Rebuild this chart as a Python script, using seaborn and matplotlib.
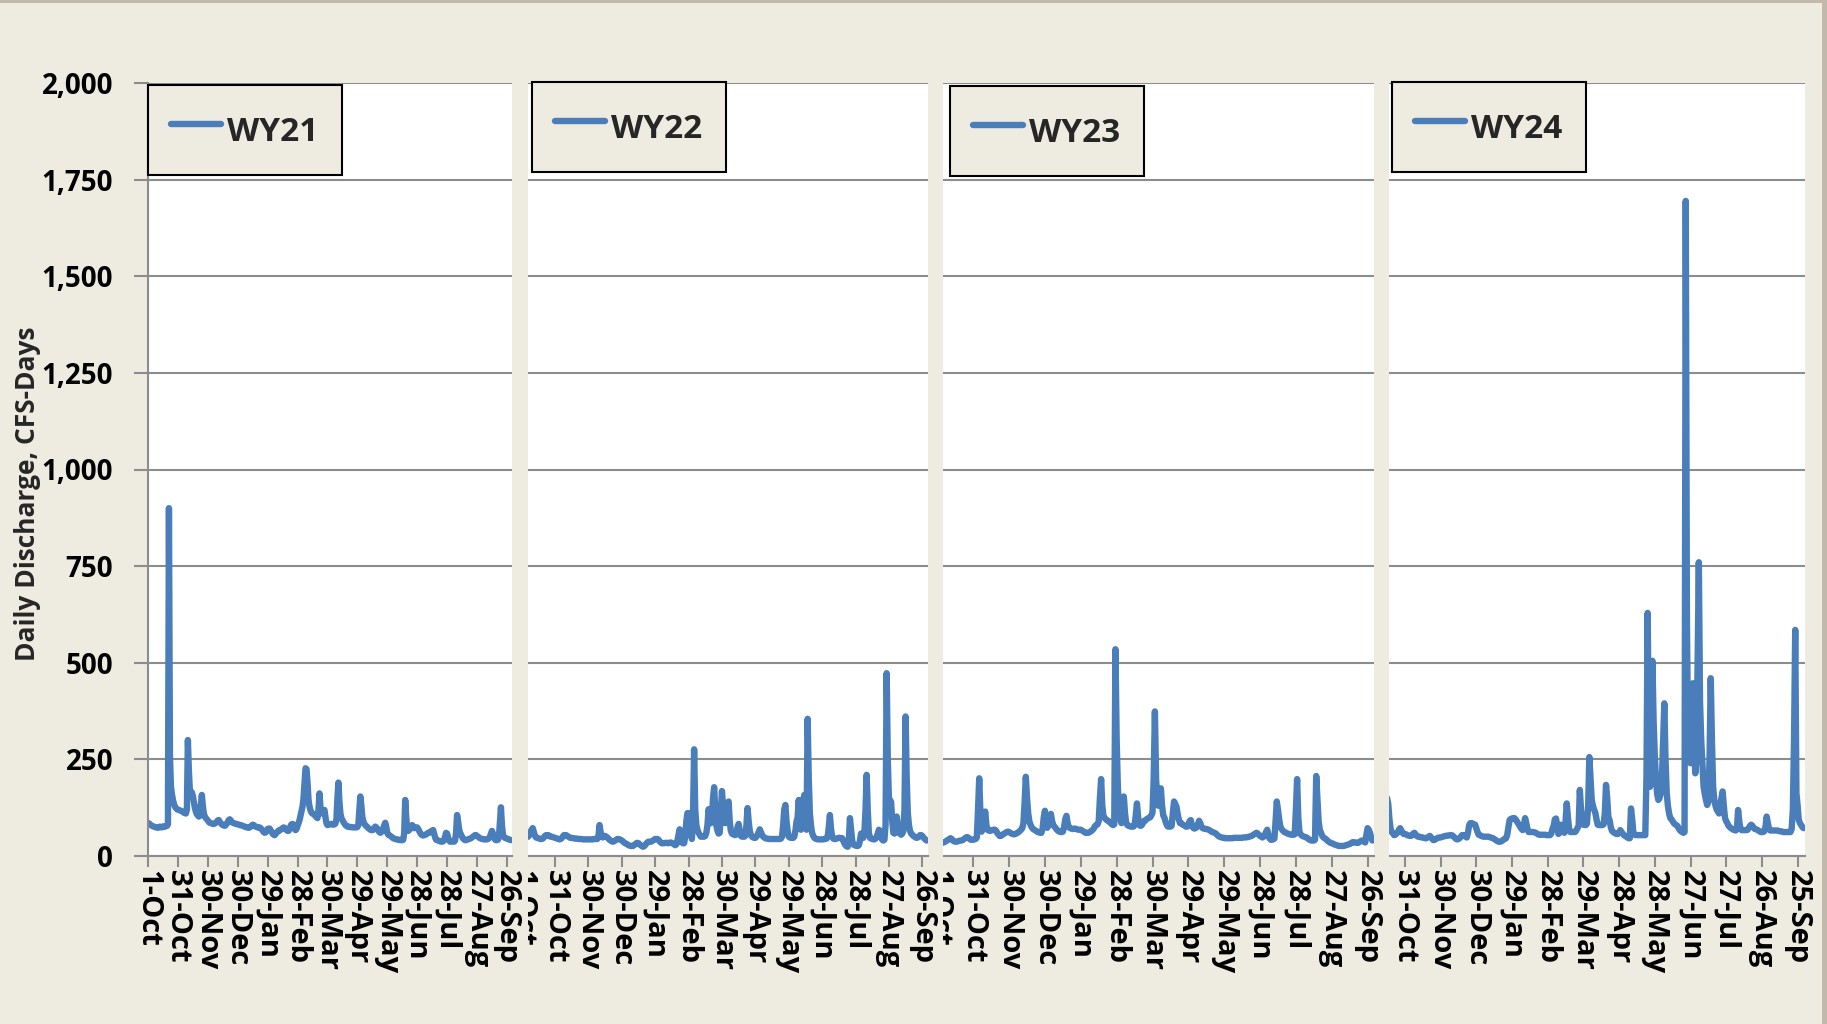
import pandas as pd
import seaborn as sns
import matplotlib.pyplot as plt
from matplotlib.patches import Rectangle

# daily discharge (CFS-days), one value per day starting 1-Oct
wy21 = [86, 84, 82, 80, 78, 77, 76, 75, 74, 74,
        73, 74, 76, 75, 74, 76, 77, 76, 77, 78,
        82, 900, 260, 180, 160, 145, 135, 128, 124, 121,
        120, 119, 118, 117, 116, 114, 112, 111, 110, 120,
        300, 220, 170, 163, 165, 155, 140, 125, 115, 108,
        105, 102, 104, 130, 158, 130, 110, 102, 98, 95,
        92, 88, 86, 85, 84, 83, 83, 84, 86, 88,
        92, 93, 88, 85, 82, 80, 79, 78, 80, 84,
        88, 93, 95, 92, 88, 86, 85, 84, 83, 83,
        82, 81, 80, 80, 79, 78, 77, 76, 75, 74,
        74, 73, 74, 76, 79, 81, 80, 78, 76, 75,
        74, 73, 74, 72, 69, 66, 62, 60, 61, 66,
        70, 71, 71, 67, 62, 58, 55, 54, 57, 60,
        63, 66, 66, 68, 70, 72, 74, 73, 70, 67,
        65, 65, 70, 78, 82, 83, 78, 70, 67, 70,
        78, 85, 93, 105, 118, 128, 150, 190, 227, 225,
        190, 145, 128, 118, 112, 110, 108, 106, 105, 100,
        98, 120, 162, 125, 110, 112, 115, 119, 100, 85,
        80, 81, 82, 82, 83, 82, 81, 82, 84, 95,
        150, 190, 140, 110, 98, 93, 88, 84, 80, 78,
        76, 76, 75, 75, 75, 74, 74, 74, 74, 74,
        75, 80, 120, 154, 130, 100, 90, 83, 80, 77,
        75, 72, 70, 68, 67, 67, 68, 72, 76, 74,
        70, 66, 62, 60, 62, 66, 72, 80, 86, 75,
        60, 55, 54, 52, 50, 48, 46, 45, 44, 43,
        43, 42, 42, 41, 41, 41, 42, 60, 145, 100,
        70, 65, 67, 72, 78, 80, 76, 72, 74, 74,
        74, 70, 65, 60, 56, 54, 53, 54, 55, 56,
        58, 60, 60, 62, 64, 66, 67, 58, 48, 42,
        41, 40, 39, 38, 37, 37, 38, 42, 50, 60,
        58, 48, 40, 37, 37, 38, 38, 37, 40, 60,
        106, 90, 70, 60, 55, 50, 45, 43, 41, 41,
        42, 43, 44, 45, 46, 48, 50, 52, 54, 54,
        52, 50, 48, 46, 45, 44, 44, 43, 43, 43,
        43, 44, 46, 50, 58, 65, 58, 48, 43, 41,
        41, 42, 50, 90, 126, 80, 55, 49, 47, 46,
        45, 44, 43, 42, 41]

wy22 = [45, 46, 48, 50, 52, 50, 50, 55, 62, 68,
        72, 62, 52, 48, 47, 46, 45, 44, 44, 45,
        48, 52, 54, 53, 54, 52, 50, 50, 49, 48,
        47, 46, 45, 44, 43, 44, 46, 50, 54, 54,
        54, 52, 50, 48, 47, 47, 46, 46, 45, 45,
        45, 44, 44, 44, 44, 43, 43, 43, 43, 43,
        43, 43, 43, 43, 43, 44, 44, 44, 44, 50,
        80, 62, 50, 48, 50, 52, 50, 48, 45, 42,
        40, 38, 37, 38, 40, 42, 44, 44, 43, 42,
        40, 38, 35, 33, 32, 30, 28, 27, 26, 26,
        26, 28, 30, 33, 34, 33, 30, 28, 26, 24,
        25, 28, 32, 35, 37, 37, 37, 38, 40, 42,
        44, 44, 44, 42, 38, 35, 33, 33, 33, 34,
        34, 34, 33, 34, 35, 34, 32, 30, 28, 30,
        40, 55, 69, 45, 35, 33, 33, 50, 90, 111,
        105, 111, 80, 44, 100, 276, 120, 80, 68, 60,
        55, 50, 50, 50, 50, 52, 60, 80, 121, 105,
        85, 100, 150, 178, 120, 79, 65, 58, 60, 110,
        168, 130, 100, 85, 110, 135, 141, 90, 65, 58,
        56, 55, 54, 60, 75, 83, 65, 52, 50, 50,
        50, 52, 80, 124, 90, 65, 54, 50, 48, 47,
        47, 50, 55, 62, 69, 62, 55, 50, 48, 46,
        45, 45, 44, 44, 44, 44, 44, 44, 44, 44,
        44, 44, 44, 45, 50, 80, 120, 132, 90, 65,
        50, 48, 47, 47, 47, 50, 65, 89, 100, 145,
        95, 68, 85, 140, 158, 90, 68, 355, 200, 110,
        79, 60, 52, 47, 45, 44, 43, 43, 43, 43,
        43, 43, 44, 44, 45, 50, 75, 106, 70, 50,
        45, 44, 44, 45, 46, 47, 47, 46, 46, 40,
        33, 28, 25, 24, 40, 98, 70, 40, 30, 28,
        27, 26, 26, 28, 40, 58, 55, 47, 60, 120,
        210, 120, 60, 47, 45, 44, 43, 43, 45, 50,
        58, 68, 65, 48, 42, 40, 42, 80, 473, 250,
        150, 145, 140, 90, 60, 58, 75, 102, 80, 60,
        58, 55, 58, 65, 120, 361, 200, 111, 80, 65,
        58, 55, 52, 50, 48, 47, 48, 50, 54, 54,
        52, 48, 45, 42, 40]

wy23 = [40, 38, 36, 35, 34, 35, 36, 38, 40, 42,
        44, 46, 44, 40, 38, 37, 37, 38, 39, 40,
        40, 41, 43, 46, 48, 49, 47, 44, 42, 42,
        42, 43, 44, 48, 120, 201, 110, 63, 70, 90,
        115, 80, 68, 66, 65, 66, 67, 68, 68, 66,
        60, 56, 52, 52, 54, 56, 58, 60, 62, 63,
        62, 60, 58, 57, 56, 57, 58, 60, 62, 65,
        68, 72, 85, 140, 205, 150, 110, 89, 80, 74,
        70, 68, 66, 64, 62, 61, 60, 60, 70, 100,
        117, 85, 73, 80, 100, 109, 90, 80, 76, 72,
        68, 65, 63, 62, 62, 63, 75, 95, 104, 85,
        75, 72, 71, 70, 70, 71, 70, 69, 68, 68,
        68, 66, 64, 62, 60, 60, 60, 61, 63, 65,
        68, 72, 78, 80, 82, 90, 150, 199, 130, 102,
        98, 95, 92, 91, 88, 85, 82, 80, 82, 535,
        300, 180, 120, 95, 85, 100, 154, 110, 85, 80,
        78, 77, 76, 76, 76, 80, 105, 136, 100, 80,
        78, 80, 85, 91, 92, 95, 97, 99, 100, 105,
        112, 200, 374, 200, 145, 130, 155, 175, 130, 105,
        99, 88, 80, 76, 76, 76, 78, 110, 141, 135,
        128, 110, 95, 85, 85, 82, 80, 78, 76, 76,
        80, 90, 93, 80, 73, 71, 72, 75, 82, 91,
        85, 75, 72, 71, 70, 70, 69, 68, 66, 64,
        62, 61, 60, 58, 55, 52, 50, 49, 48, 47,
        47, 46, 46, 46, 46, 46, 46, 46, 47, 47,
        47, 47, 47, 47, 47, 47, 48, 48, 48, 49,
        49, 50, 51, 52, 54, 56, 58, 60, 58, 55,
        52, 50, 48, 50, 55, 62, 68, 55, 45, 42,
        42, 43, 45, 90, 141, 120, 95, 76, 70, 66,
        63, 61, 60, 58, 57, 56, 55, 55, 55, 56,
        120, 199, 100, 60, 56, 53, 51, 50, 49, 48,
        45, 43, 41, 40, 40, 40, 42, 207, 150, 90,
        68, 60, 52, 48, 46, 44, 41, 38, 36, 34,
        33, 32, 30, 29, 28, 27, 26, 26, 26, 26,
        26, 27, 28, 29, 30, 31, 33, 35, 36, 35,
        35, 34, 34, 36, 38, 40, 39, 37, 35, 55,
        72, 68, 60, 48, 40]

wy24 = [70, 68, 66, 65, 64, 62, 60, 60, 62, 65,
        70, 80, 95, 120, 145, 150, 135, 95, 70, 62,
        58, 54, 55, 58, 62, 68, 72, 66, 60, 57,
        57, 56, 54, 53, 52, 52, 54, 58, 60, 56,
        52, 50, 50, 49, 48, 48, 47, 46, 46, 48,
        50, 52, 48, 44, 41, 42, 44, 46, 47, 48,
        48, 49, 50, 51, 52, 52, 53, 53, 54, 54,
        53, 50, 47, 44, 43, 44, 46, 50, 54, 54,
        52, 50, 48, 60, 80, 85, 85, 84, 82, 81,
        72, 62, 55, 54, 52, 51, 50, 50, 50, 50,
        50, 49, 48, 47, 46, 44, 42, 40, 38, 37,
        37, 38, 40, 43, 44, 46, 55, 75, 93, 96,
        97, 98, 98, 95, 90, 85, 80, 75, 70, 67,
        80, 98, 85, 70, 62, 62, 62, 62, 62, 61,
        60, 58, 56, 55, 55, 55, 55, 55, 55, 54,
        54, 54, 54, 58, 70, 78, 95, 97, 75, 57,
        60, 81, 70, 62, 60, 90, 136, 100, 70, 62,
        62, 62, 62, 62, 66, 72, 78, 171, 120, 90,
        81, 80, 80, 84, 130, 256, 200, 145, 130, 120,
        112, 95, 81, 80, 80, 80, 80, 82, 110, 184,
        150, 100, 93, 75, 65, 62, 60, 58, 57, 57,
        60, 67, 62, 58, 54, 52, 50, 48, 46, 46,
        123, 95, 60, 55, 54, 54, 54, 54, 54, 54,
        54, 54, 54, 205, 629, 300, 179, 220, 505, 350,
        257, 200, 160, 145, 150, 163, 200, 300, 395, 250,
        163, 130, 110, 98, 95, 90, 85, 82, 80, 78,
        72, 67, 64, 62, 60, 62, 1695, 600, 283, 250,
        240, 300, 447, 300, 214, 250, 500, 760, 400, 300,
        240, 179, 160, 145, 132, 140, 250, 460, 300, 180,
        145, 130, 120, 115, 110, 130, 150, 167, 130, 98,
        90, 85, 78, 75, 72, 70, 68, 67, 66, 70,
        119, 90, 70, 67, 67, 67, 67, 67, 68, 72,
        78, 81, 78, 74, 70, 69, 68, 66, 64, 62,
        62, 62, 64, 75, 102, 85, 70, 66, 66, 66,
        66, 66, 66, 66, 65, 64, 64, 63, 62, 62,
        62, 62, 62, 62, 62, 70, 119, 300, 585, 163,
        130, 93, 85, 80, 75, 72]

tick_days = [0, 30, 60, 90, 120, 150, 180, 210, 240, 270, 300, 330, 360]
labels_365 = ["1-Oct", "31-Oct", "30-Nov", "30-Dec", "29-Jan", "28-Feb", "30-Mar",
              "29-Apr", "29-May", "28-Jun", "28-Jul", "27-Aug", "26-Sep"]
labels_366 = ["1-Oct", "31-Oct", "30-Nov", "30-Dec", "29-Jan", "28-Feb", "29-Mar",
              "28-Apr", "28-May", "27-Jun", "27-Jul", "26-Aug", "25-Sep"]
y_ticks = [0, 250, 500, 750, 1000, 1250, 1500, 1750, 2000]

BG = "#EEEBE0"
EDGE = "#C2B9AC"
BLUE = "#4A7EBB"
GRID = "#8C8C8C"
W, H = 1827, 1024

sns.set_theme(style="white")
plt.rcParams["font.family"] = ["Open Sans", "DejaVu Sans"]
plt.rcParams["font.weight"] = "bold"

fig = plt.figure(figsize=(W / 100, H / 100), dpi=100, facecolor=BG)

# name, values, tick labels, px of day 0, px per day, legend top-left px
panels = [
    ("WY21", wy21, labels_365, 148.0, 0.997, (148, 85)),
    ("WY22", wy22, labels_365, 521.6, 1.113, (532, 82)),
    ("WY23", wy23, labels_365, 937.4, 1.195, (950, 86)),
    ("WY24", wy24, labels_366, 1369.2, 1.190, (1392, 82)),
]
# beige strips from the chart on top hiding the next chart's left edge
covers = [(505, 528), (915, 943), (1360, 1389)]

top_px, bot_px = 83, 856
for i, (name, vals, labels, x0, ppd, (lx, ly)) in enumerate(panels):
    n = len(vals)
    ax = fig.add_axes([x0 / W, 1 - bot_px / H, n * ppd / W, (bot_px - top_px) / H])
    ax.set_zorder(7 - 2 * i)
    ax.set_facecolor("white")
    df = pd.DataFrame({"day": range(n), "cfs": vals})
    sns.lineplot(data=df, x="day", y="cfs", ax=ax, color=BLUE, lw=4.6,
                 label=name, solid_joinstyle="round", solid_capstyle="round")
    ax.set_xlim(0, n)
    ax.set_ylim(0, 2000)
    ax.set_xticks(tick_days)
    ax.set_xticklabels(labels, rotation=270, fontsize=21, fontweight="bold")
    ax.set_yticks(y_ticks)
    ax.set_xlabel("")
    ax.set_ylabel("")
    ax.yaxis.grid(True, color=GRID, lw=1.5)
    ax.set_axisbelow(True)
    for s in ["top", "right"]:
        ax.spines[s].set_visible(False)
    ax.spines["bottom"].set_color(GRID)
    ax.spines["bottom"].set_linewidth(1.5)
    ax.spines["left"].set_color(GRID)
    ax.spines["left"].set_linewidth(1.5)
    ax.tick_params(axis="x", bottom=True, length=8, width=1.5, color=GRID,
                   pad=2, labelcolor="black")
    if i == 0:
        ax.set_yticklabels([f"{v:,}" for v in y_ticks], fontsize=20, fontweight="bold")
        ax.tick_params(axis="y", left=True, length=10, width=1.5, color=GRID,
                       pad=15, labelcolor="black")
    else:
        ax.set_yticklabels([])
        ax.tick_params(axis="y", left=False)
    leg = ax.legend(loc="upper left", bbox_to_anchor=(lx / W, 1 - ly / H),
                    bbox_transform=fig.transFigure, borderaxespad=0,
                    frameon=True, fancybox=False, framealpha=1,
                    facecolor=BG, edgecolor="black",
                    prop={"weight": "bold", "size": 24},
                    handlelength=1.5, handleheight=1.6, handletextpad=0.18,
                    borderpad=0.7)
    leg.get_frame().set_linewidth(1.5)

for i, (c0, c1) in enumerate(covers):
    fig.add_artist(Rectangle((c0 / W, 0), (c1 - c0) / W, 1, transform=fig.transFigure,
                             facecolor=BG, edgecolor="none", zorder=6 - 2 * i))

fig.add_artist(Rectangle((0, 1 - 3 / H), 1, 3 / H, transform=fig.transFigure,
                         facecolor=EDGE, edgecolor="none", zorder=20))
fig.add_artist(Rectangle((1822 / W, 0), 5 / W, 1, transform=fig.transFigure,
                         facecolor=EDGE, edgecolor="none", zorder=20))

fig.text(28 / W, 1 - 494 / H, "Daily Discharge, CFS-Days", rotation=90,
         ha="center", va="center", fontsize=19, fontweight="bold")

fig.savefig("out.png", dpi=100, facecolor=BG)
